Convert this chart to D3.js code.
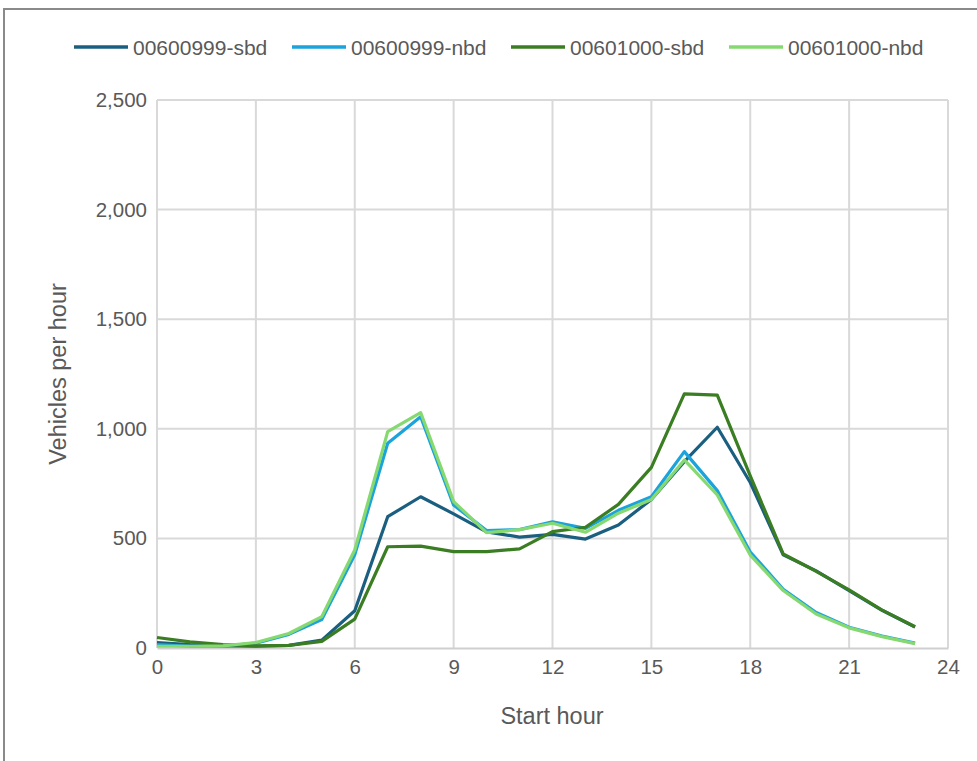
<!DOCTYPE html>
<html>
<head>
<meta charset="utf-8">
<script src="https://cdn.jsdelivr.net/npm/d3@7"></script>
<style>
  html, body { margin: 0; padding: 0; background: #ffffff; }
  svg { display: block; }
  text { font-family: "Liberation Sans", Arial, sans-serif; fill: #595959; }
</style>
</head>
<body>
<svg id="chart" width="977" height="761"></svg>
<script>
// Hourly traffic volumes by counter and direction
const hours = d3.range(0, 24);
const seriesNames = ["00600999-sbd", "00600999-nbd", "00601000-sbd", "00601000-nbd"];
const sbd999 = [25, 15, 10, 8, 12, 36, 170, 599, 690, 612, 530, 506, 518, 497, 561, 678, 850, 1007, 755, 425, 352, 262, 172, 96];
const nbd999 = [15, 8, 8, 22, 62, 130, 425, 934, 1055, 652, 536, 540, 576, 546, 628, 690, 896, 718, 438, 268, 162, 95, 55, 22];
const sbd1000 = [48, 28, 15, 10, 12, 30, 132, 462, 465, 440, 440, 452, 531, 551, 655, 824, 1159, 1154, 785, 429, 350, 265, 173, 97];
const nbd1000 = [8, 8, 10, 25, 66, 143, 447, 987, 1074, 668, 526, 540, 569, 528, 615, 677, 858, 698, 424, 262, 155, 92, 52, 20];
const xTicks = [0, 3, 6, 9, 12, 15, 18, 21, 24];
const yTicks = [0, 500, 1000, 1500, 2000, 2500];
const colors = ["#1b5f80", "#1ba3dc", "#3b7d23", "#86d970"];

const seriesValues = [sbd999, nbd999, sbd1000, nbd1000];
const series = seriesNames.map((name, i) => ({
  name,
  color: colors[i],
  points: hours.map((h, j) => ({ h, v: seriesValues[i][j] }))
}));

const svg = d3.select("#chart");

// outer frame
svg.append("rect")
  .attr("x", 4).attr("y", 9)
  .attr("width", 1100).attr("height", 1100)
  .attr("fill", "none")
  .attr("stroke", "#8a8a8a")
  .attr("stroke-width", 2);

const plotLeft = 157, plotRight = 948, plotTop = 100, plotBottom = 648;
const x = d3.scaleLinear().domain([0, 24]).range([plotLeft, plotRight]);
const y = d3.scaleLinear().domain([0, 2500]).range([plotBottom, plotTop]);

// gridlines
const grid = svg.append("g");
grid.selectAll("line.h").data(yTicks.filter(d => d > 0)).join("line")
  .attr("class", "h")
  .attr("x1", plotLeft).attr("x2", plotRight)
  .attr("y1", d => y(d)).attr("y2", d => y(d))
  .attr("stroke", "#d9d9d9").attr("stroke-width", 2);
grid.selectAll("line.v").data(xTicks).join("line")
  .attr("class", "v")
  .attr("x1", d => x(d)).attr("x2", d => x(d))
  .attr("y1", plotTop).attr("y2", plotBottom)
  .attr("stroke", "#d9d9d9").attr("stroke-width", 2);

// y axis
const yAxis = svg.append("g")
  .attr("transform", `translate(${plotLeft - 10},0)`)
  .call(d3.axisLeft(y).tickValues(yTicks).tickFormat(d3.format(",")).tickSize(0).tickPadding(0));
yAxis.select(".domain").remove();
yAxis.selectAll("text").style("font-size", "20.5px").attr("fill", "#595959");

// x axis
const xAxis = svg.append("g")
  .attr("transform", `translate(0,${plotBottom})`)
  .call(d3.axisBottom(x).tickValues(xTicks).tickSize(0).tickPadding(11));
xAxis.select(".domain").attr("stroke", "#cfcfcf").attr("stroke-width", 2);
xAxis.selectAll("text").style("font-size", "20.5px").attr("fill", "#595959");

// axis titles
svg.append("text")
  .attr("x", (plotLeft + plotRight) / 2 - 0.5).attr("y", 724)
  .attr("text-anchor", "middle")
  .style("font-size", "23.5px")
  .text("Start hour");
svg.append("text")
  .attr("transform", `translate(66,${(plotTop + plotBottom) / 2}) rotate(-90)`)
  .attr("text-anchor", "middle")
  .style("font-size", "23.5px")
  .text("Vehicles per hour");

// series lines
const line = d3.line().x(d => x(d.h)).y(d => y(d.v));
svg.append("g").selectAll("path").data(series).join("path")
  .attr("d", d => line(d.points))
  .attr("fill", "none")
  .attr("stroke", d => d.color)
  .attr("stroke-width", 3.2)
  .attr("stroke-linejoin", "round");

// legend
const legendX = [133, 351, 570, 788];
const legend = svg.append("g").selectAll("g").data(series).join("g")
  .attr("transform", (d, i) => `translate(${legendX[i]},0)`);
legend.append("line")
  .attr("x1", -59).attr("x2", -5)
  .attr("y1", 47).attr("y2", 47)
  .attr("stroke", d => d.color)
  .attr("stroke-width", 3.5);
legend.append("text")
  .attr("x", 0).attr("y", 55)
  .style("font-size", "21px")
  .text(d => d.name);
</script>
</body>
</html>
